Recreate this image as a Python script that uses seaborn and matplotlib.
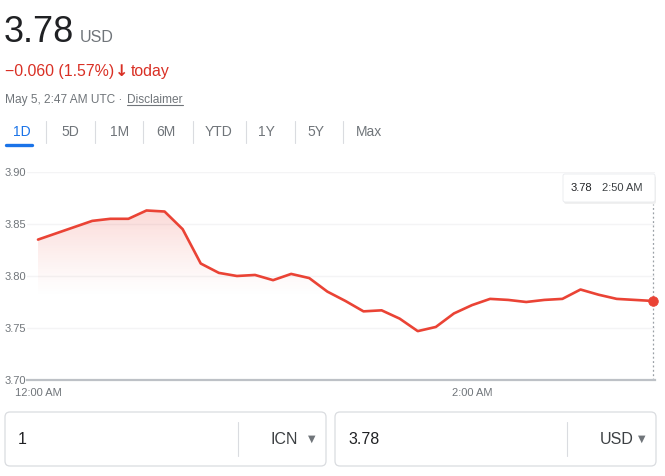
import numpy as np
import pandas as pd
import matplotlib
matplotlib.use("Agg")
import matplotlib.pyplot as plt
import matplotlib.transforms as mtransforms
from matplotlib.patches import FancyBboxPatch, PathPatch
import seaborn as sns

# ICN -> USD, 1 day, 5 minute steps from 12:00 AM
minutes = [0, 5, 10, 15, 20, 25, 30, 35, 40, 45, 50, 55, 60, 65, 70, 75, 80, 85,
           90, 95, 100, 105, 110, 115, 120, 125, 130, 135, 140, 145, 150, 155, 160, 165, 170]
rates = [3.835, 3.841, 3.847, 3.853, 3.855, 3.855, 3.863, 3.862, 3.845, 3.812,
         3.803, 3.800, 3.801, 3.796, 3.802, 3.798, 3.785, 3.776, 3.766, 3.767,
         3.759, 3.747, 3.751, 3.764, 3.772, 3.778, 3.777, 3.775, 3.777, 3.778,
         3.787, 3.782, 3.778, 3.777, 3.776]
y_ticks = [3.70, 3.75, 3.80, 3.85, 3.90]
x_ticks = [0, 120]
x_labels = ["12:00 AM", "2:00 AM"]
tabs = ["1D", "5D", "1M", "6M", "YTD", "1Y", "5Y", "Max"]

df = pd.DataFrame({"minute": minutes, "rate": rates})

RED = "#ea4335"
GREY = "#70757a"
DARK = "#202124"

sns.set_style("white")
plt.rcParams["font.family"] = ["Liberation Sans", "DejaVu Sans"]

W, H = 665, 476
fig = plt.figure(figsize=(W / 100, H / 100), dpi=100)
# pixel coords, y down
PX = mtransforms.Affine2D().scale(1, -1).translate(0, H).scale(1 / 100) + fig.dpi_scale_trans


def ftext(x, y, s, **kw):
    return fig.text(x, y, s, transform=PX, **kw)


# header
ftext(4, 42, "3.78", fontsize=26, color=DARK, va="baseline")
ftext(80, 42, "USD", fontsize=11.5, color=GREY, va="baseline")
ftext(5, 76, "\u22120.060 (1.57%)", fontsize=11.4, color="#d93025", va="baseline")
ftext(115, 76, "\u2193", fontsize=11.5, color="#d93025", va="baseline", weight="bold",
      family=["DejaVu Sans"])
ftext(131, 76, "today", fontsize=11.4, color="#d93025", va="baseline")
ftext(5, 103, "May 5, 2:47 AM UTC \u00b7", fontsize=8.6, color=GREY, va="baseline")
ftext(127, 103, "Disclaimer", fontsize=8.6, color=GREY, va="baseline")
fig.add_artist(plt.Line2D([127, 183], [105, 105], transform=PX, color=GREY, lw=0.8))

# period tabs
tab_x = [13, 61, 110, 156, 205, 258, 307, 356]
for i, (lab, x) in enumerate(zip(tabs, tab_x)):
    ftext(x, 132, lab, fontsize=10, color="#1a73e8" if i == 0 else GREY, va="center")
for sx in [46, 95, 143, 193, 246, 295, 343]:
    fig.add_artist(plt.Line2D([sx, sx], [121, 143], transform=PX, color="#dadce0", lw=0.8))
fig.add_artist(plt.Line2D([6, 32], [145, 145], transform=PX, color="#1a73e8", lw=2.4,
                          solid_capstyle="round"))

# chart area
ax = fig.add_axes([27 / W, 1 - 380 / H, (655 - 27) / W, (380 - 172) / H])
px_per_min = (472 - 38) / 120
ax.set_xlim((27 - 38) / px_per_min, (655 - 38) / px_per_min)
ax.set_ylim(3.70, 3.90)

# gradient fill under the line
fill = ax.fill_between(df["minute"], df["rate"], 3.70, facecolor="none", edgecolor="none")
clip = PathPatch(fill.get_paths()[0], transform=ax.transData, facecolor="none", edgecolor="none")
ax.add_patch(clip)
grad = np.zeros((100, 1, 4))
grad[..., 0], grad[..., 1], grad[..., 2] = 0.92, 0.26, 0.21
grad[:, 0, 3] = np.linspace(0.26, 0.0, 100) ** 1.2
im = ax.imshow(grad, extent=[0, 170, 3.779, 3.865], aspect="auto", origin="upper",
               zorder=1, interpolation="bilinear")
im.set_clip_path(clip)

sns.lineplot(data=df, x="minute", y="rate", color=RED, lw=1.9, ax=ax, zorder=3)
dot = sns.scatterplot(x=df["minute"].iloc[-1:], y=df["rate"].iloc[-1:], color=RED, s=48,
                      edgecolor=RED, ax=ax, zorder=4)
for coll in ax.collections:
    if coll is not fill:
        coll.set_clip_on(False)
ax.axvline(170, ymin=0, ymax=(3.869 - 3.70) / 0.2, color="#9aa0a6", lw=0.9, ls=(0, (1.5, 2)),
           zorder=2)

ax.set_yticks(y_ticks)
ax.set_yticklabels([f"{v:.2f}" for v in y_ticks])
ax.set_xticks(x_ticks)
ax.set_xticklabels(x_labels)
ax.set_xlabel("")
ax.set_ylabel("")
ax.tick_params(axis="y", length=0, pad=15.8, labelsize=8, labelcolor=GREY)
for t in ax.get_yticklabels():
    t.set_ha("left")
ax.tick_params(axis="x", length=4, width=1, color="#9aa0a6", pad=2, labelsize=8,
               labelcolor=GREY)
ax.grid(axis="y", color="#f4f4f5", lw=1)
ax.grid(axis="x", visible=False)
for side in ["top", "left", "right"]:
    ax.spines[side].set_visible(False)
ax.spines["bottom"].set_color("#bdc1c6")
ax.spines["bottom"].set_linewidth(1.6)
ax.set_facecolor("none")

# tooltip
fig.add_artist(FancyBboxPatch((564, 176), 92, 28, boxstyle="round,pad=0,rounding_size=2",
                              transform=PX, facecolor="#000000", alpha=0.06, edgecolor="none"))
fig.add_artist(FancyBboxPatch((563, 174), 92, 28, boxstyle="round,pad=0,rounding_size=2",
                              transform=PX, facecolor="white", edgecolor="#e8eaed", lw=0.6))
ftext(571, 188, "3.78", fontsize=8, color=DARK, va="center")
ftext(602, 188, "2:50 AM", fontsize=8, color="#3c4043", va="center")

# converter boxes
for x0, num, cur, div in [(5, "1", "ICN", 238), (335, "3.78", "USD", 567)]:
    fig.add_artist(FancyBboxPatch((x0, 412), 321, 54, boxstyle="round,pad=0,rounding_size=5",
                                  transform=PX, facecolor="white", edgecolor="#dadce0", lw=0.9))
    fig.add_artist(plt.Line2D([div, div], [422, 456], transform=PX, color="#dadce0", lw=0.8))
    ftext(x0 + 13, 439, num, fontsize=11.5, color=DARK, va="center")
    ftext(x0 + 265, 439, cur, fontsize=11.5, color="#3c4043", va="center")
    ftext(x0 + 303, 439, "\u25bc", fontsize=7, color=GREY, va="center",
          family=["DejaVu Sans"])

fig.savefig("out.png", dpi=100)
